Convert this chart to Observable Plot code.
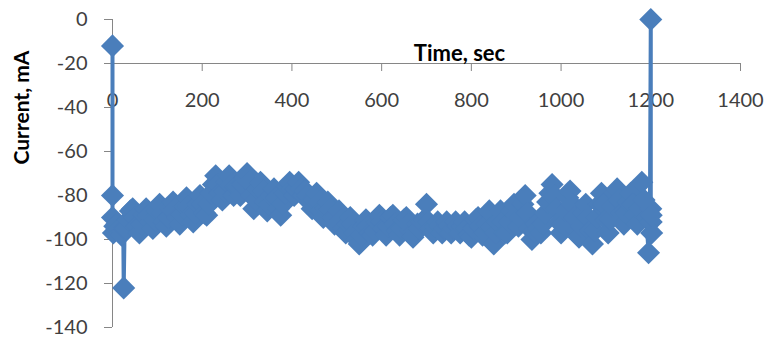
<!DOCTYPE html>
<html><head><meta charset="utf-8">
<script src="https://cdn.jsdelivr.net/npm/d3@7"></script>
<script src="https://cdn.jsdelivr.net/npm/@observablehq/plot@0.6"></script>
<style>body{margin:0;background:#fff}</style>
</head><body><div id="chart"></div>
<script>
// Time, sec
const times = [
  0, 0, 0, 2, 5, 10, 15, 20, 24, 25, 27,
  30, 35, 40, 45, 50, 55, 60, 65, 70, 75,
  80, 85, 90, 95, 100, 105, 110, 115, 120, 125,
  130, 135, 140, 145, 150, 155, 160, 165, 170, 175,
  180, 185, 190, 195, 200, 205, 210, 215, 220, 225,
  230, 235, 240, 245, 250, 255, 260, 265, 270, 275,
  280, 285, 290, 295, 300, 305, 310, 315, 320, 325,
  330, 335, 340, 345, 350, 355, 360, 365, 370, 375,
  380, 385, 390, 395, 400, 405, 410, 415, 420, 425,
  430, 435, 440, 445, 450, 455, 460, 465, 470, 475,
  480, 485, 490, 495, 500, 505, 510, 515, 520, 525,
  530, 535, 540, 545, 550, 555, 560, 565, 570, 575,
  580, 585, 590, 595, 600, 605, 610, 615, 620, 625,
  630, 635, 640, 645, 650, 655, 660, 665, 670, 675,
  680, 685, 690, 695, 700, 705, 710, 715, 720, 725,
  730, 735, 740, 745, 750, 755, 760, 765, 770, 775,
  780, 785, 790, 795, 800, 805, 810, 815, 820, 825,
  830, 835, 840, 845, 850, 855, 860, 865, 870, 875,
  880, 885, 890, 895, 900, 905, 910, 915, 920, 925,
  930, 935, 940, 945, 950, 955, 960, 965, 970, 975,
  980, 985, 990, 995, 1000, 1005, 1010, 1015, 1020, 1025,
  1030, 1035, 1040, 1045, 1050, 1055, 1060, 1065, 1070, 1075,
  1080, 1085, 1090, 1095, 1100, 1105, 1110, 1115, 1120, 1125,
  1130, 1135, 1140, 1145, 1150, 1155, 1160, 1165, 1170, 1175,
  1180, 1185, 1190,
  1195, 1198, 1200, 1200, 1201, 1202, 1201
];
// Current, mA
const currents = [
  -12, -80, -90, -97, -94, -93, -95, -98, -96, -122, -95,
  -95, -91, -87, -86, -90, -94, -97, -93, -89, -86,
  -89, -92, -95, -91, -87, -84, -88, -92, -94, -90,
  -86, -83, -86, -90, -93, -89, -85, -81, -85, -89,
  -92, -88, -84, -80, -84, -88, -89, -84, -79, -75,
  -71, -75, -79, -82, -78, -74, -71, -75, -80, -76,
  -76, -80, -75, -72, -70, -74, -80, -86, -82, -77,
  -74, -78, -83, -87, -84, -80, -77, -81, -86, -89,
  -84, -79, -76, -74, -77, -80, -77, -74, -77, -80,
  -78, -80, -83, -86, -82, -79, -83, -87, -90, -86,
  -83, -86, -90, -93, -89, -87, -91, -95, -97, -93,
  -90, -93, -97, -100, -102, -98, -94, -91, -94, -97,
  -98, -96, -92, -89, -92, -95, -98, -94, -90, -89,
  -93, -96, -98, -95, -91, -90, -93, -96, -99, -96,
  -93, -95, -92, -91, -84, -92, -95, -97, -94, -92,
  -94, -97, -95, -92, -94, -97, -95, -92, -94, -97,
  -94, -92, -95, -98, -99, -95, -91, -90, -94, -98,
  -97, -93, -87, -94, -102, -97, -92, -87, -92, -97,
  -97, -92, -87, -84, -89, -94, -90, -84, -80, -88,
  -95, -100, -96, -93, -95, -97, -93, -88, -83, -79,
  -75, -80, -86, -92, -97, -93, -87, -81, -78, -84,
  -90, -96, -99, -94, -88, -84, -90, -96, -102, -96,
  -90, -84, -79, -84, -91, -97, -91, -85, -79, -77,
  -82, -88, -93, -88, -83, -79, -84, -89, -93, -86,
  -74, -82, -90,
  -106, -92, 0, -86, -92, -97, -89
];
const xTicks = [0, 200, 400, 600, 800, 1000, 1200, 1400];
const yTicks = [0, -20, -40, -60, -80, -100, -120, -140];
const xAxisCross = -20;
const xTitle = "Time, sec";
const yTitle = "Current, mA";

const data = times.map((t, i) => ({t, c: currents[i]}));
const blue = "#4a7ebb";
const axisGray = "#868686";
const textColor = "#404040";

const chart = Plot.plot({
  width: 766, height: 341,
  marginLeft: 112, marginRight: 26, marginTop: 19, marginBottom: 14,
  style: {fontFamily: "Lato, sans-serif", fontSize: "20px", color: textColor, background: "#fff"},
  x: {domain: [0, 1400], axis: null},
  y: {domain: [-140, 0], axis: null},
  marks: [
    Plot.ruleY([xAxisCross], {stroke: axisGray, strokeWidth: 1}),
    Plot.ruleX(xTicks, {x: d => d, y1: () => xAxisCross, y2: () => xAxisCross, insetBottom: -8, stroke: axisGray}),
    Plot.text(xTicks, {x: d => d, y: () => xAxisCross, dy: 37, text: d => String(d), fontSize: 20, fill: textColor}),
    Plot.ruleX([0], {stroke: axisGray}),
    Plot.axisY({ticks: yTicks, tickSize: 8, tickPadding: 17, stroke: axisGray, fill: textColor, label: null, tickFormat: d => String(d), fontSize: 20}),
    Plot.text([xTitle], {frameAnchor: "top", dx: 33, dy: 26, text: d => d, fontWeight: "bold", fontSize: 22, fill: "#000"}),
    Plot.text([yTitle], {frameAnchor: "left", dx: -90, dy: -9, rotate: -90, text: d => d, fontWeight: "bold", fontSize: 21, fill: "#000"}),
    Plot.line(data, {x: "t", y: "c", stroke: blue, strokeWidth: 4}),
    Plot.dot(data, {x: "t", y: "c", symbol: "diamond2", r: 10.4, fill: blue, stroke: "none"})
  ]
});
document.getElementById("chart").appendChild(chart);
</script>
</body></html>
